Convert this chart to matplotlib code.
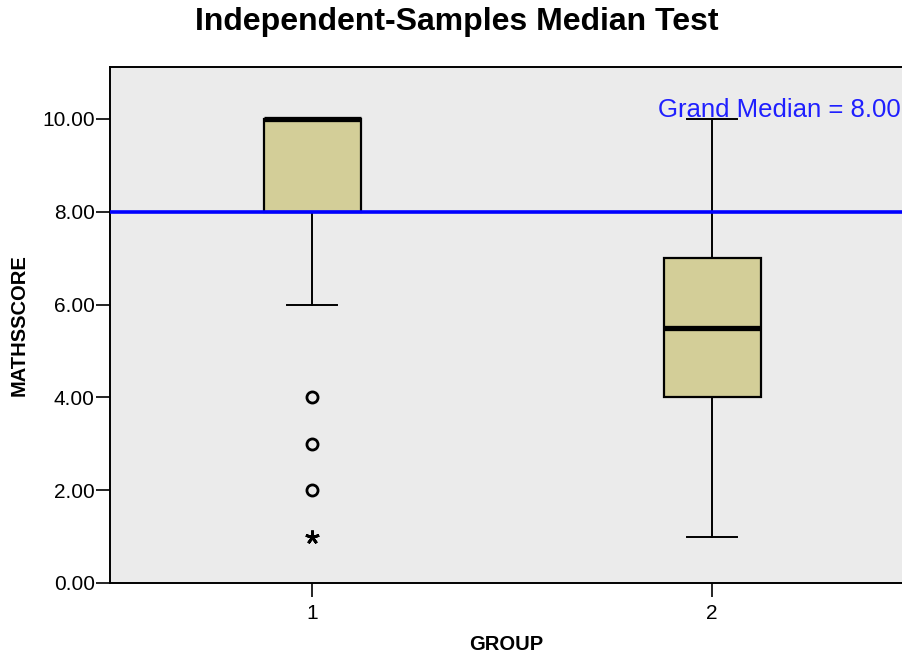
import matplotlib
matplotlib.use("Agg")
import matplotlib.pyplot as plt

# data
groups = [1, 2]
q1 = [8.0, 4.0]
medians = [10.0, 5.5]
q3 = [10.0, 7.0]
whisker_low = [6.0, 1.0]
whisker_high = [10.0, 10.0]
outliers = [[4.0, 3.0, 2.0], []]
extremes = [[1.0], []]
grand_median = 8.0
yticks = [0.0, 2.0, 4.0, 6.0, 8.0, 10.0]

plt.rcParams['font.family'] = ['Liberation Sans', 'DejaVu Sans']

fig = plt.figure(figsize=(9.02, 6.56), dpi=100)
ax = fig.add_axes([110 / 902, 73 / 656, 792 / 902, 516 / 656])
ax.set_facecolor('#EBEBEB')

stats = []
for i in range(len(groups)):
    stats.append({
        'med': medians[i], 'q1': q1[i], 'q3': q3[i],
        'whislo': whisker_low[i], 'whishi': whisker_high[i],
        'fliers': outliers[i], 'label': str(groups[i]),
    })

ax.bxp(stats, positions=groups, widths=0.2425, capwidths=0.125,
       patch_artist=True, manage_ticks=False,
       boxprops=dict(facecolor='#D3CE98', edgecolor='black', linewidth=1.6),
       medianprops=dict(color='black', linewidth=3.8, solid_capstyle='butt', zorder=4),
       whiskerprops=dict(color='black', linewidth=1.4),
       capprops=dict(color='black', linewidth=1.4),
       flierprops=dict(marker='o', markersize=8, markerfacecolor='none',
                       markeredgecolor='black', markeredgewidth=2))

for g, ext in zip(groups, extremes):
    ax.plot([g] * len(ext), ext, linestyle='none', marker=(5, 2, 0),
            markersize=10, markeredgewidth=2, color='black', zorder=5)

ax.axhline(grand_median, color='#0000FF', linewidth=2.6, zorder=3)
ax.text(0.998, 10.2, 'Grand Median = %.2f' % grand_median, color='#1F1FFF',
        fontsize=18.5, ha='right', va='center', transform=ax.get_yaxis_transform())

ax.set_xlim(0.495, 2.475)
ax.set_ylim(0, 11.12)
ax.set_xticks(groups)
ax.set_xticklabels([str(g) for g in groups])
ax.set_yticks(yticks)
ax.set_yticklabels(['%.2f' % v for v in yticks])
ax.tick_params(axis='both', direction='out', length=10, width=1.2, labelsize=15,
               colors='black', pad=1)
ax.tick_params(axis='x', pad=5)

for side in ['left', 'bottom', 'top']:
    ax.spines[side].set_linewidth(1.4)
    ax.spines[side].set_color('black')
ax.spines['right'].set_visible(False)

ax.set_xlabel('GROUP', fontsize=14.5, fontweight='bold', labelpad=9)
ax.set_ylabel('MATHSSCORE', fontsize=14.5, fontweight='bold', labelpad=10)

fig.text(457 / 902, 1 - 22 / 656, 'Independent-Samples Median Test', fontsize=23,
         fontweight='bold', ha='center', va='center')

fig.savefig('out.png', dpi=100)
